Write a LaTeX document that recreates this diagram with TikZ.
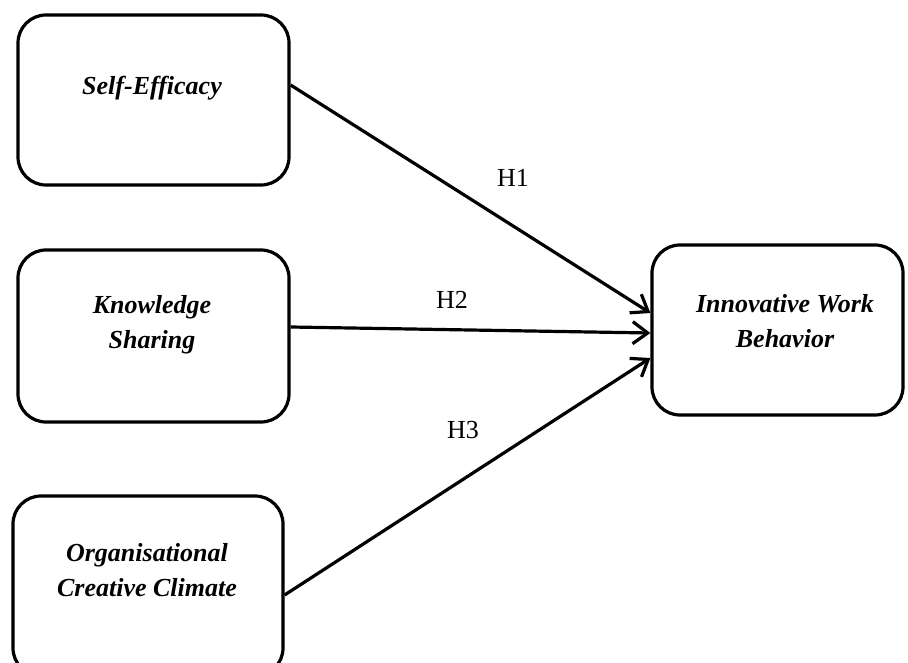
\documentclass[tikz,border=0pt]{standalone}
\usepackage{fontspec}
\setmainfont{Liberation Serif}
\usetikzlibrary{arrows.meta}
\begin{document}
\begin{tikzpicture}[x=1pt,y=-1pt,
  box/.style={draw, line width=3.2pt, rounded corners=28pt, inner sep=0pt},
  boxtext/.style={font=\fontsize{26}{35}\selectfont\bfseries\itshape, align=center, inner sep=0pt},
  link/.style={line width=3.2pt, -{Straight Barb[length=15pt,width=22pt,line width=3.2pt]}},
  lab/.style={font=\fontsize{26}{28}\selectfont, inner sep=0pt}]
\useasboundingbox (0,0) rectangle (908,663);
\clip (0,0) rectangle (908,663);
\fill[white] (0,0) rectangle (908,663);
% boxes
\node[box, minimum width=271pt, minimum height=170pt] (se) at (153.5,100) {};
\node[box, minimum width=271pt, minimum height=172pt] (ks) at (153.5,336) {};
\node[box, minimum width=270pt, minimum height=180pt] (occ) at (148,586) {};
\node[box, minimum width=251pt, minimum height=170pt] (iwb) at (777.5,330) {};
% texts
\node[boxtext] (setext) at (152,88) {Self-Efficacy};
\node[boxtext] (kstext) at (152,325) {Knowledge\\Sharing};
\node[boxtext] (occtext) at (147,570) {Organisational\\Creative Climate};
\node[boxtext] (iwbtext) at (785,321) {Innovative Work\\Behavior};
% connectors
\draw[link] ([yshift=15pt]se.east) -- ([yshift=17pt]iwb.west);
\draw[link] ([yshift=9pt]ks.east) -- ([yshift=-3pt]iwb.west);
\draw[link] ([yshift=-9pt]occ.east) -- ([yshift=-28pt]iwb.west);
% labels
\node[lab] (h1) at (513,178) {H1};
\node[lab] (h2) at (452,300) {H2};
\node[lab] (h3) at (463,430) {H3};
\end{tikzpicture}
\end{document}
